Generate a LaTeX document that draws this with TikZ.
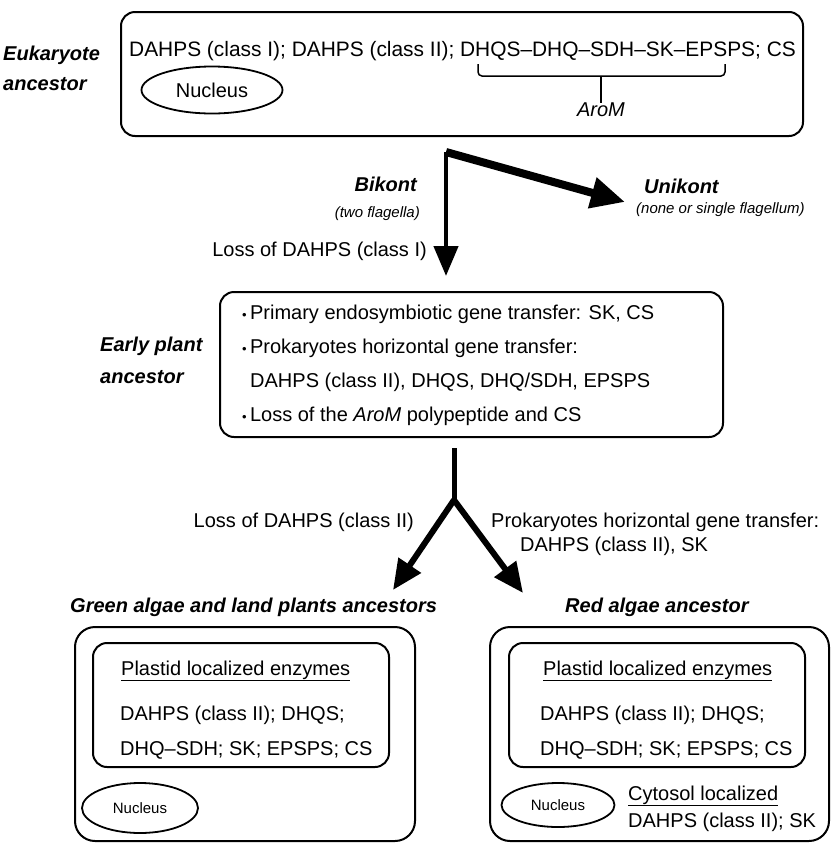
\documentclass[tikz,border=0pt]{standalone}
\usepackage{fontspec}
\setmainfont{Liberation Sans}
\usetikzlibrary{arrows.meta, positioning, shapes.geometric}

\begin{document}
\begin{tikzpicture}[x=1pt, y=-1pt, font=\fontsize{20}{24}\selectfont,
  panel/.style={rectangle, draw, line width=2pt, rounded corners=14pt, inner sep=0pt},
  nucl/.style={ellipse, draw, line width=1.8pt, inner sep=0pt},
  side/.style={font=\fontsize{20}{30}\selectfont\bfseries\itshape, align=left, inner sep=0pt, anchor=west},
  txt/.style={inner sep=0pt, anchor=base west},
  note/.style={font=\fontsize{15}{18}\selectfont\itshape, inner sep=0pt},
  stem/.style={line width=5pt},
  fatarr/.style={-{Triangle[length=30pt, width=26pt]}, line width=6pt}
]
\useasboundingbox (0,0) rectangle (831,844);

\node[panel, minimum width=682pt, minimum height=124pt] (euk) at (462,74) {};
\node[txt, font=\fontsize{20.9}{24}\selectfont] (euktxt) at (129,56) {DAHPS (class I); DAHPS (class II); DHQS–DHQ–SDH–SK–EPSPS; CS};
\node[nucl, minimum width=141pt, minimum height=47pt] (euknuc) at (212,90) {Nucleus};
\coordinate (bl) at (478,64);
\coordinate (br) at (725,64);
\node[font=\fontsize{20}{24}\selectfont\itshape, inner sep=0pt] (arom) at (601,110) {AroM};
\draw[line width=1.5pt, rounded corners=4pt] (bl) -- (478,76) -- (725,76) -- (br);
\draw[line width=1.5pt] (601,76) -- (arom.north);
\node[side] (eukl) at (3,68) {Eukaryote\\ancestor};

\coordinate (split) at (446,152);
\coordinate (uni) at (625,202);
\node[panel, minimum width=503pt, minimum height=145pt] (plant) at (471.5,364.5) {};
\draw[-{Triangle[length=30pt, width=24pt]}, line width=4.5pt, shorten >=15pt] (split) -- (split |- plant.north);
\draw[-{Triangle[length=34pt, width=30pt]}, line width=8pt] (split) -- (uni);
\node[side, anchor=east] (bik) at (417,184) {Bikont};
\node[note, anchor=east] (bikn) at (420,214) {(two flagella)};
\node[inner sep=0pt, anchor=east] (lossi) at (427,251) {Loss of DAHPS (class I)};
\node[side] (unik) at (644,186) {Unikont};
\node[note, anchor=west] (unikn) at (636,210) {(none or single flagellum)};

\node[side, font=\fontsize{20}{32}\selectfont\bfseries\itshape] (plantl) at (100,360) {Early plant\\ancestor};
\node[txt] (pt1) at (242,319) {{\fontsize{13}{13}\selectfont •}\,Primary endosymbiotic gene transfer: SK, CS};
\node[txt] (pt2) at (242,353) {{\fontsize{13}{13}\selectfont •}\,Prokaryotes horizontal gene transfer:};
\node[txt] (pt3) at (250,387) {DAHPS (class II), DHQS, DHQ/SDH, EPSPS};
\node[txt] (pt4) at (242,421) {{\fontsize{13}{13}\selectfont •}\,Loss of the \textit{AroM} polypeptide and CS};

\coordinate (fork) at (454,500);
\coordinate (gtip) at (393,590);
\coordinate (rtip) at (523,593);
\draw[stem] ([yshift=-10pt]plant.south -| fork) -- (fork);
\draw[fatarr] (fork) -- (gtip);
\draw[fatarr] (fork) -- (rtip);
\node[inner sep=0pt, anchor=east] (lossii) at (414,522) {Loss of DAHPS (class II)};
\node[inner sep=0pt, anchor=west] (hgt) at (491,522) {Prokaryotes horizontal gene transfer:};
\node[inner sep=0pt, anchor=west] (hgt2) at (520,546) {DAHPS (class II), SK};

\node[side] (greenl) at (70,607) {Green algae and land plants ancestors};
\node[side] (redl) at (565,607) {Red algae ancestor};

\node[panel, rounded corners=20pt, minimum width=340pt, minimum height=214pt] (green) at (245,734) {};
\node[panel, minimum width=296pt, minimum height=124pt] (gplast) at (241,705) {};
\node[txt] (gt1) at (121,675) {\underline{Plastid localized enzymes}};
\node[txt] (gt2) at (120,720) {DAHPS (class II); DHQS;};
\node[txt] (gt3) at (120,755) {DHQ–SDH; SK; EPSPS; CS};
\node[nucl, minimum width=116pt, minimum height=50pt, font=\fontsize{15}{18}\selectfont] (gnuc) at (140,808) {Nucleus};

\node[panel, rounded corners=20pt, minimum width=339pt, minimum height=214pt] (red) at (659.5,734) {};
\node[panel, minimum width=296pt, minimum height=124pt] (rplast) at (657,705) {};
\node[txt] (rt1) at (543,675) {\underline{Plastid localized enzymes}};
\node[txt] (rt2) at (540,720) {DAHPS (class II); DHQS;};
\node[txt] (rt3) at (540,755) {DHQ–SDH; SK; EPSPS; CS};
\node[nucl, minimum width=113pt, minimum height=44pt, font=\fontsize{15}{18}\selectfont] (rnuc) at (558,805) {Nucleus};
\node[txt] (rc1) at (628,800) {\underline{Cytosol localized}};
\node[txt] (rc2) at (628,827) {DAHPS (class II); SK};
\end{tikzpicture}
\end{document}
